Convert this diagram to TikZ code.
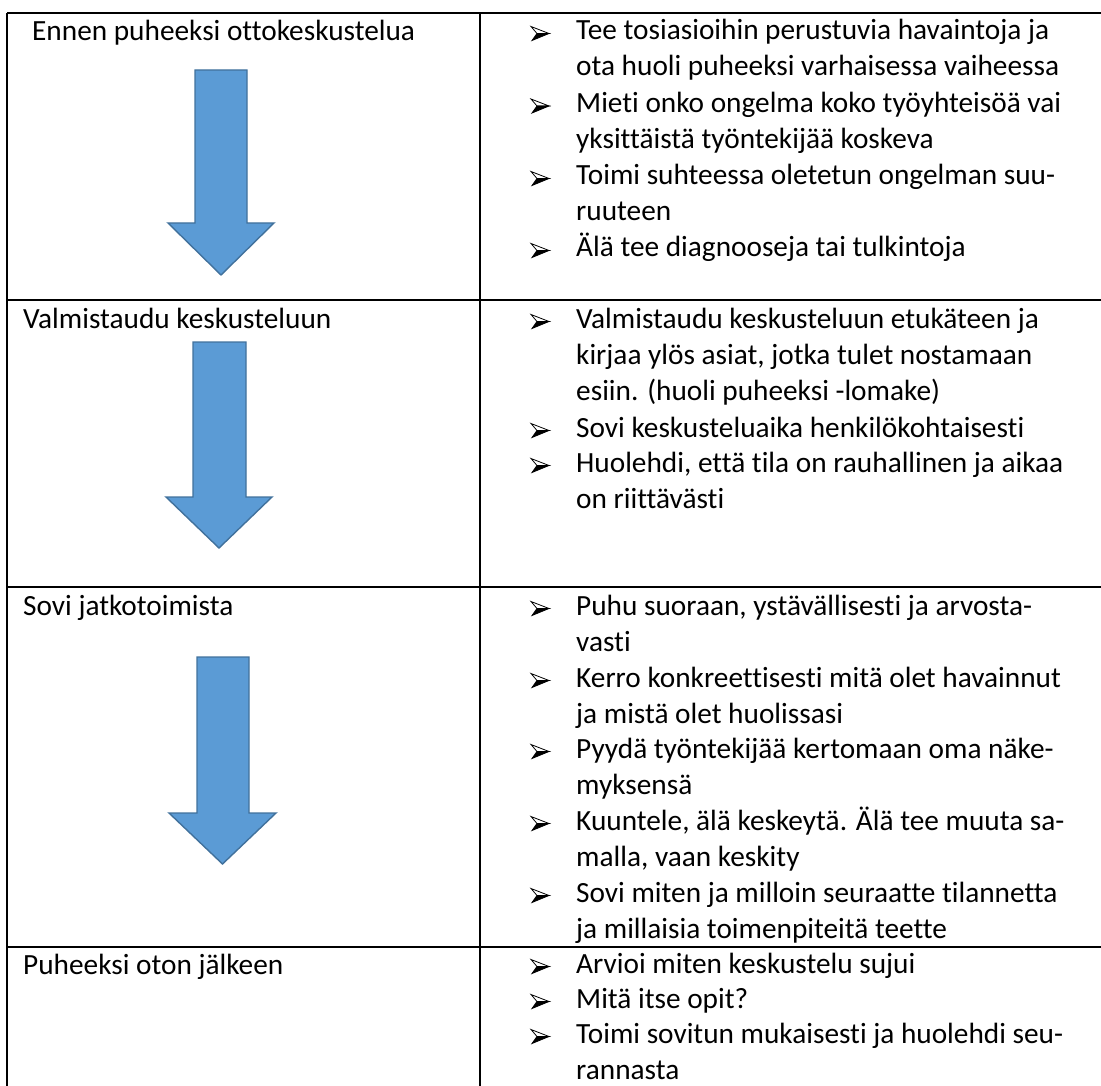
\documentclass[tikz,border=0pt]{standalone}
\usepackage{fontspec}
\setmainfont{Carlito}[Ligatures=NoCommon]
\newcommand{\lns}[1]{\begin{tabular}[t]{@{}l@{}}#1\end{tabular}}
\tikzset{
  grid line/.style={line width=2pt, black},
  blockarrow/.style={fill=arrowfill, draw=arrowedge, line width=1.4pt, line join=miter},
  lbl/.style={anchor=base west, inner sep=0pt, font=\fontsize{29.3}{36}\selectfont},
  itm/.style={anchor=base west, inner sep=0pt, font=\fontsize{29.3}{36}\selectfont},
  bul/.pic={
    \filldraw[fill=white, draw=black, line width=0.8pt, line join=miter] (0,-13.5) -- (18,-6.5) -- (6,-6.5) -- cycle;
    \filldraw[fill=black, draw=black, line width=0.8pt, line join=miter] (6,-6.5) -- (18,-6.5) -- (1,0.5) -- cycle;
  }
}
\definecolor{arrowfill}{HTML}{5B9BD5}
\definecolor{arrowedge}{HTML}{41719C}
\begin{document}
\begin{tikzpicture}[x=1pt,y=-1pt]
\useasboundingbox (0,0) rectangle (1101,1086);
% table lines
\coordinate (tl) at (7,13);
\coordinate (tr) at (1101,13);
\coordinate (bl) at (7,1086);
\coordinate (ct) at (480,13);
\coordinate (cb) at (480,1086);
\coordinate (h1l) at (7,300);  \coordinate (h1r) at (1101,300);
\coordinate (h2l) at (7,587);  \coordinate (h2r) at (1101,587);
\coordinate (h3l) at (7,947);  \coordinate (h3r) at (1101,947);
\draw[grid line] (tl) -- (tr);
\draw[grid line] (h1l) -- (h1r);
\draw[grid line] (h2l) -- (h2r);
\draw[grid line] (h3l) -- (h3r);
\draw[grid line] (tl) -- (bl);
\draw[grid line] (ct) -- (cb);

% arrows
\draw[blockarrow] (195,70) -- (247,70) -- (247,223) -- (274,223) -- (221,275) -- (168,223) -- (195,223) -- cycle;
\draw[blockarrow] (193,342) -- (246,342) -- (246,497) -- (272,497) -- (219,548) -- (166,497) -- (193,497) -- cycle;
\draw[blockarrow] (197,657) -- (249,657) -- (249,813) -- (276,813) -- (222.5,864) -- (169,813) -- (197,813) -- cycle;

% left labels
\node[lbl] (l1) at (32,41) {Ennen puheeksi ottokeskustelua};
\node[lbl] (l2) at (23,328) {Valmistaudu keskusteluun};
\node[lbl] (l3) at (23,615) {Sovi jatkotoimista};
\node[lbl] (l4) at (23,974) {Puheeksi oton jälkeen};

% row 1
\pic at (531,40) {bul};
\node[itm] (a1) at (576,40) {\lns{Tee tosiasioihin perustuvia havaintoja ja\\ota huoli puheeksi varhaisessa vaiheessa}};
\pic at (531,112.5) {bul};
\node[itm] (a2) at (576,112.5) {\lns{Mieti onko ongelma koko työyhteisöä vai\\yksittäistä työntekijää koskeva}};
\pic at (531,185) {bul};
\node[itm] (a3) at (576,185) {\lns{Toimi suhteessa oletetun ongelman suu-\\ruuteen}};
\pic at (531,257) {bul};
\node[itm] (a4) at (576,257) {Älä tee diagnooseja tai tulkintoja};

% row 2
\pic at (531,328) {bul};
\node[itm] (b1) at (576,328) {\lns{Valmistaudu keskusteluun etukäteen ja\\kirjaa ylös asiat, jotka tulet nostamaan\\esiin. (huoli puheeksi -lomake)}};
\pic at (531,437) {bul};
\node[itm] (b2) at (576,437) {Sovi keskusteluaika henkilökohtaisesti};
\pic at (531,472) {bul};
\node[itm] (b3) at (576,472) {\lns{Huolehdi, että tila on rauhallinen ja aikaa\\on riittävästi}};

% row 3
\pic at (531,615) {bul};
\node[itm] (c1) at (576,615) {\lns{Puhu suoraan, ystävällisesti ja arvosta-\\vasti}};
\pic at (531,687) {bul};
\node[itm] (c2) at (576,687) {\lns{Kerro konkreettisesti mitä olet havainnut\\ja mistä olet huolissasi}};
\pic at (531,758) {bul};
\node[itm] (c3) at (576,758) {\lns{Pyydä työntekijää kertomaan oma näke-\\myksensä}};
\pic at (531,830) {bul};
\node[itm] (c4) at (576,830) {\lns{Kuuntele, älä keskeytä. Älä tee muuta sa-\\malla, vaan keskity}};
\pic at (531,902) {bul};
\node[itm] (c5) at (576,902) {\lns{Sovi miten ja milloin seuraatte tilannetta\\ja millaisia toimenpiteitä teette}};

% row 4
\pic at (531,973) {bul};
\node[itm] (d1) at (576,973) {Arvioi miten keskustelu sujui};
\pic at (531,1008) {bul};
\node[itm] (d2) at (576,1008) {Mitä itse opit?};
\pic at (531,1043) {bul};
\node[itm] (d3) at (576,1043) {\lns{Toimi sovitun mukaisesti ja huolehdi seu-\\rannasta}};
\end{tikzpicture}
\end{document}
